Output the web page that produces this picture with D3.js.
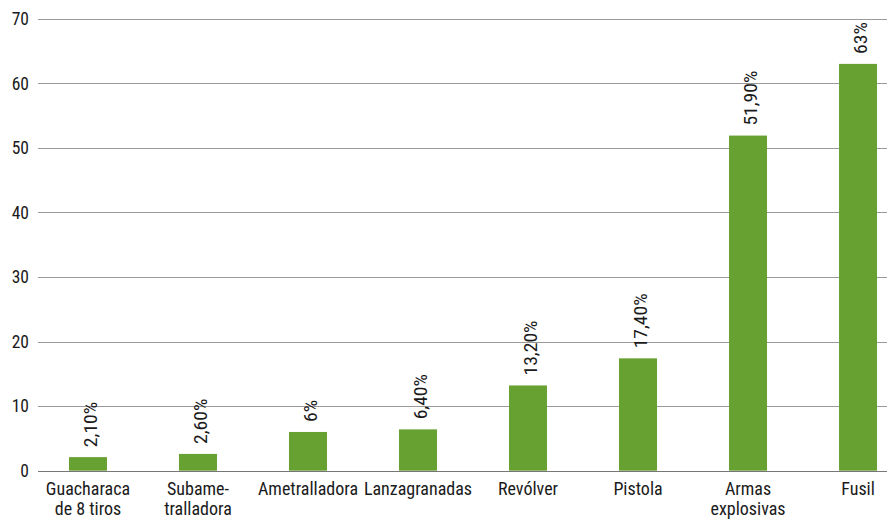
<!DOCTYPE html>
<html>
<head>
<meta charset="utf-8">
<script src="https://cdn.jsdelivr.net/npm/d3@7"></script>
<style>
  html, body { margin: 0; padding: 0; background: #fff; }
  svg { display: block; }
  text { font-family: "Roboto", "Liberation Sans", sans-serif; fill: #1a1a1a; font-stretch: condensed; }
</style>
</head>
<body>
<svg id="chart" width="887" height="519"></svg>
<script>
const categories = [["Guacharaca", "de 8 tiros"], ["Subame-", "tralladora"], ["Ametralladora"], ["Lanzagranadas"], ["Revólver"], ["Pistola"], ["Armas", "explosivas"], ["Fusil"]];
const values = [2.1, 2.6, 6, 6.4, 13.2, 17.4, 51.9, 63];
const valueLabels = ["2,10%", "2,60%", "6%", "6,40%", "13,20%", "17,40%", "51,90%", "63%"];
const yTicks = [0, 10, 20, 30, 40, 50, 60, 70];

const svg = d3.select("#chart");
const gridLeft = 38, gridRight = 887;
const y = d3.scaleLinear().domain([0, 70]).range([470.7, 18.7]);
const keys = categories.map((c, i) => i);
const x = d3.scaleBand().domain(keys).range([33, 913]).paddingInner(0.6545).paddingOuter(0.327);

// gridlines
svg.append("g").selectAll("line").data(yTicks).join("line")
  .attr("x1", gridLeft).attr("x2", gridRight)
  .attr("y1", d => Math.round(y(d)) + 0.5).attr("y2", d => Math.round(y(d)) + 0.5)
  .attr("stroke", d => d === 0 ? "#777" : "#9a9a9a").attr("stroke-width", 1);

// y tick labels
svg.append("g").selectAll("text").data(yTicks).join("text")
  .attr("x", 29).attr("y", d => y(d))
  .attr("dy", "0.36em")
  .attr("text-anchor", "end").style("font-size", "17.5px")
  .text(d => d);

// bars
svg.append("g").selectAll("rect").data(values).join("rect")
  .attr("x", (d, i) => x(i)).attr("width", x.bandwidth())
  .attr("y", d => y(d)).attr("height", d => y(0) - y(d))
  .attr("fill", "#67a132");

// value labels
svg.append("g").selectAll("text").data(values).join("text")
  .attr("transform", (d, i) => `translate(${x(i) + x.bandwidth() / 2 + 3},${y(d) - 10}) rotate(-90) scale(1.12,1)`)
  .attr("dy", "0.36em").attr("text-anchor", "start").style("font-size", "17.5px")
  .text((d, i) => valueLabels[i]);

// category labels
const cat = svg.append("g").selectAll("text").data(categories).join("text")
  .attr("transform", (d, i) => `translate(${x(i) + x.bandwidth() / 2},495)`)
  .attr("text-anchor", "middle").style("font-size", "18px");
cat.selectAll("tspan").data(d => d).join("tspan")
  .attr("x", 0)
  .attr("dy", (d, j) => j === 0 ? 0 : "20px")
  .text(d => d);
</script>
</body>
</html>
